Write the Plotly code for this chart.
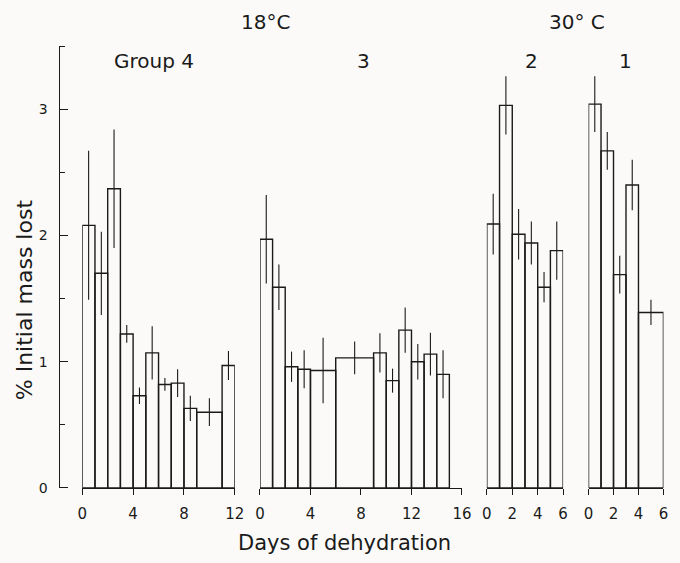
import plotly.graph_objects as go

# ---- data ----
# Group 4 (18 C)
g4_left = [0, 1, 2, 3, 4, 5, 6, 7, 8, 9, 11]
g4_right = [1, 2, 3, 4, 5, 6, 7, 8, 9, 11, 12]
g4_mean = [2.08, 1.70, 2.37, 1.22, 0.73, 1.07, 0.82, 0.83, 0.63, 0.60, 0.97]
g4_err = [0.59, 0.33, 0.47, 0.07, 0.065, 0.21, 0.05, 0.11, 0.10, 0.11, 0.115]

# Group 3 (18 C)
g3_left = [0, 1, 2, 3, 4, 6, 9, 10, 11, 12, 13, 14]
g3_right = [1, 2, 3, 4, 6, 9, 10, 11, 12, 13, 14, 15]
g3_mean = [1.97, 1.59, 0.96, 0.94, 0.93, 1.03, 1.07, 0.85, 1.25, 1.00, 1.06, 0.90]
g3_err = [0.35, 0.18, 0.12, 0.15, 0.26, 0.13, 0.155, 0.095, 0.18, 0.14, 0.17, 0.19]

# Group 2 (30 C)
g2_left = [0, 1, 2, 3, 4, 5]
g2_right = [1, 2, 3, 4, 5, 6]
g2_mean = [2.09, 3.03, 2.01, 1.94, 1.59, 1.88]
g2_err = [0.24, 0.23, 0.20, 0.17, 0.12, 0.23]

# Group 1 (30 C)
g1_left = [0, 1, 2, 3, 4]
g1_right = [1, 2, 3, 4, 6]
g1_mean = [3.04, 2.67, 1.69, 2.40, 1.39]
g1_err = [0.22, 0.15, 0.15, 0.20, 0.10]

panel_ranges = [[0, 12], [0, 16], [0, 6], [0, 6]]
panel_ticks = [[0, 4, 8, 12], [0, 4, 8, 12, 16], [0, 2, 4, 6], [0, 2, 4, 6]]
group_labels = ["Group 4", "3", "2", "1"]
temp_labels = ["18°C", "30° C"]
y_ticks = [0, 1, 2, 3]
y_range = [0, 3.5]

# ---- layout constants ----
W, H = 680, 563
BG = "#fbfaf8"
INK = "#1a1a1a"
FONT = "DejaVu Sans"

def px(x):
    return x / W

def py(y):
    return 1 - y / H

domains = [[px(79), px(235)], [px(260.7), px(467.3)], [px(492.7), px(570.7)], [px(596.7), px(673.3)]]
ydom = [py(495), py(46.7)]
yaxis_x = px(55)

groups = [
    (g4_left, g4_right, g4_mean, g4_err),
    (g3_left, g3_right, g3_mean, g3_err),
    (g2_left, g2_right, g2_mean, g2_err),
    (g1_left, g1_right, g1_mean, g1_err),
]

fig = go.Figure()
for i, (lft, rgt, mean, err) in enumerate(groups):
    xa = "x" if i == 0 else f"x{i+1}"
    centers = [(a + b) / 2 for a, b in zip(lft, rgt)]
    widths = [b - a for a, b in zip(lft, rgt)]
    fig.add_trace(go.Bar(
        x=centers, y=mean, width=widths, base=0,
        xaxis=xa, yaxis="y",
        marker=dict(color="rgba(0,0,0,0)", line=dict(color=INK, width=1.4)),
        error_y=dict(type="data", array=err, symmetric=True, color=INK, thickness=1.1, width=0),
        showlegend=False, hoverinfo="skip",
    ))
# invisible point so the tick-carrying overlay axis is kept
fig.add_trace(go.Scatter(x=[0], y=[0], xaxis="x", yaxis="y2", mode="markers",
                         marker=dict(size=1, color="rgba(0,0,0,0)"),
                         showlegend=False, hoverinfo="skip"))

layout = dict(
    width=W, height=H,
    margin=dict(l=0, r=0, t=0, b=0),
    paper_bgcolor=BG, plot_bgcolor="rgba(0,0,0,0)",
    barmode="overlay",
    font=dict(family=FONT, color=INK),
    # labels + axis line
    yaxis=dict(
        domain=ydom, range=y_range, anchor="free", position=yaxis_x, side="left",
        showline=True, linecolor=INK, linewidth=1.4,
        ticks="", tickvals=y_ticks, ticktext=[str(v) for v in y_ticks],
        tickfont=dict(size=14, family=FONT, color=INK),
        ticklabelstandoff=8,
        showgrid=False, zeroline=False,
    ),
    # tick marks pointing right, from the same line
    yaxis2=dict(
        domain=ydom, range=y_range, overlaying="y", anchor="free", position=yaxis_x, side="right",
        showline=False, showticklabels=False,
        ticks="outside", ticklen=8, tickwidth=1.3, tickcolor=INK,
        tickvals=y_ticks,
        minor=dict(dtick=0.5, tick0=0, ticks="outside", ticklen=5, tickcolor=INK, tickwidth=1.2, showgrid=False),
        showgrid=False, zeroline=False,
    ),
)
for i in range(4):
    key = "xaxis" if i == 0 else f"xaxis{i+1}"
    layout[key] = dict(
        domain=domains[i], range=panel_ranges[i], anchor="y",
        showline=True, linecolor=INK, linewidth=1.4,
        ticks="outside", ticklen=6, tickwidth=1.3, tickcolor=INK,
        tickvals=panel_ticks[i], ticktext=[str(v) for v in panel_ticks[i]],
        tickfont=dict(size=15, family=FONT, color=INK),
        ticklabelstandoff=6,
        showgrid=False, zeroline=False,
    )
fig.update_layout(**layout)

# annotations
group_pos = [(152, 62), (367, 62), (538, 62), (634, 62)]
for lab, (x, y) in zip(group_labels, group_pos):
    fig.add_annotation(x=px(x), y=py(y), xref="paper", yref="paper", text=lab,
                       showarrow=False, font=dict(size=20, family=FONT, color=INK),
                       xanchor="center", yanchor="middle")
for lab, (x, y) in zip(temp_labels, [(266, 22), (585, 22)]):
    fig.add_annotation(x=px(x), y=py(y), xref="paper", yref="paper", text=lab,
                       showarrow=False, font=dict(size=20, family=FONT, color=INK),
                       xanchor="center", yanchor="middle")

fig.add_annotation(x=px(347), y=py(551), xref="paper", yref="paper", text="Days of dehydration",
                   showarrow=False, font=dict(size=21, family=FONT, color=INK),
                   xanchor="center", yanchor="middle")
fig.add_annotation(x=px(20), y=py(304), xref="paper", yref="paper", text="% Initial mass lost",
                   showarrow=False, textangle=-90, font=dict(size=22, family=FONT, color=INK),
                   xanchor="center", yanchor="middle")

fig.write_html("out.html")
